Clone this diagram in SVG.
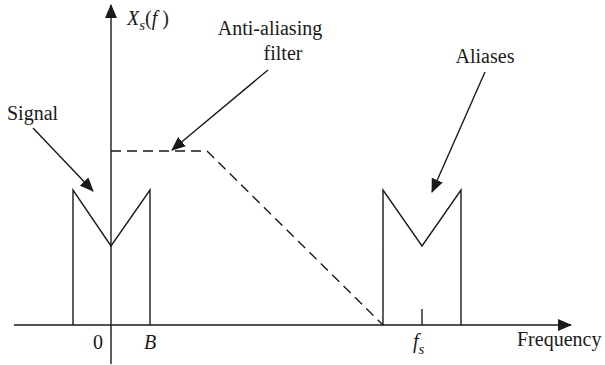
<svg xmlns="http://www.w3.org/2000/svg" width="605" height="365" viewBox="0 0 605 365">
<style>
.ln{stroke:#1a1a1a;stroke-width:1.4;fill:none}
.ds{stroke:#1a1a1a;stroke-width:1.4;fill:none;stroke-dasharray:10 6}
.it{font-style:italic}
</style>
<defs>
<marker id="ah" markerUnits="userSpaceOnUse" markerWidth="14" markerHeight="12" refX="13" refY="6" orient="auto">
<path d="M0,0 L14,6 L0,12 z" fill="#1a1a1a"/>
</marker>
</defs>
<g id="axes">
<line class="ln" x1="111" y1="364" x2="111" y2="5" marker-end="url(#ah)"/>
<line class="ln" x1="14" y1="325" x2="571" y2="325" marker-end="url(#ah)"/>
</g>
<g id="signal">
<polyline class="ln" points="73,325 73,190 111,246 150,190 150,325"/>
</g>
<g id="aliases">
<polyline class="ln" points="383,325 383,190 422,246 461,190 461,325"/>
<line class="ln" x1="422" y1="309" x2="422" y2="325"/>
</g>
<g id="filter">
<polyline class="ds" points="111,151 207,151 383,325"/>
</g>
<g id="connectors">
<line class="ln" x1="33" y1="128" x2="93" y2="191" marker-end="url(#ah)"/>
<line class="ln" x1="268" y1="70" x2="172" y2="150" marker-end="url(#ah)"/>
<line class="ln" x1="485" y1="72" x2="432" y2="192" marker-end="url(#ah)"/>
</g>
<g id="labels" font-family="'Liberation Serif', 'Times New Roman', serif" font-size="20" fill="#1a1a1a">
<text x="127" y="25"><tspan class="it">X</tspan><tspan class="it" font-size="15" dy="5">s</tspan><tspan dy="-5">(</tspan><tspan class="it">f</tspan><tspan> )</tspan></text>
<text x="270" y="35" text-anchor="middle">Anti-aliasing</text>
<text x="283" y="60" text-anchor="middle">filter</text>
<text x="7" y="120">Signal</text>
<text x="485" y="63" text-anchor="middle">Aliases</text>
<text x="98" y="349" text-anchor="middle">0</text>
<text x="150" y="349" text-anchor="middle" class="it">B</text>
<text x="413" y="348"><tspan class="it">f</tspan><tspan class="it" font-size="15" dy="6">s</tspan></text>
<text x="517" y="346">Frequency</text>
</g>
</svg>
